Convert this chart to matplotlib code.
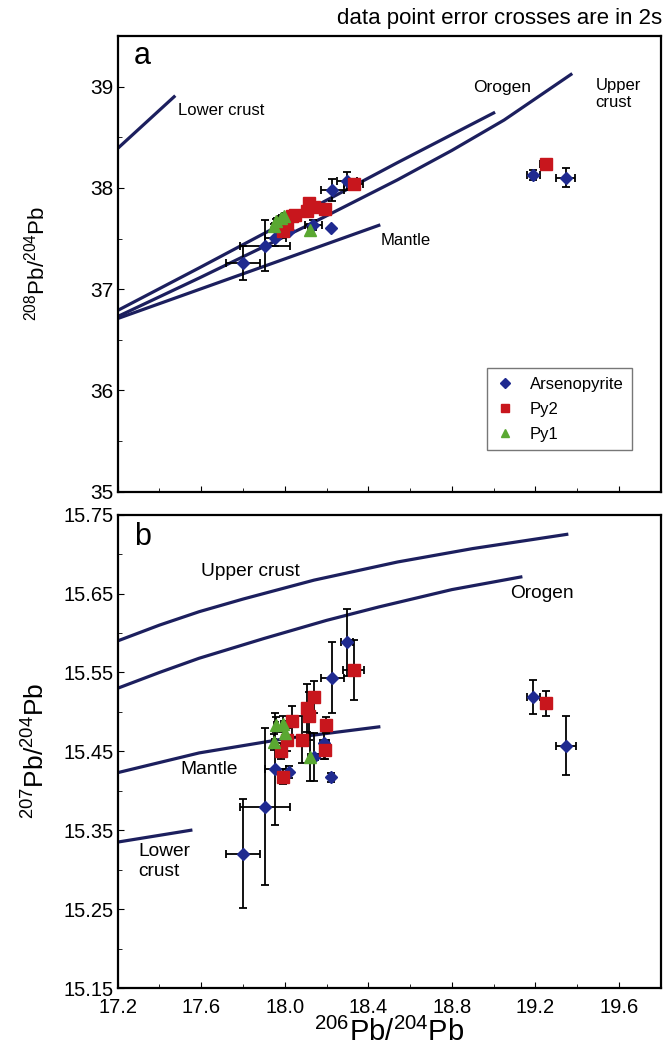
import numpy as np
import matplotlib
matplotlib.use('Agg')
import matplotlib.pyplot as plt
from matplotlib.ticker import MultipleLocator, FixedLocator, FormatStrFormatter

plt.rcParams['font.family'] = ['Liberation Sans', 'DejaVu Sans']
plt.rcParams['mathtext.default'] = 'regular'

# ---- panel a: 208Pb/204Pb vs 206Pb/204Pb ----
asp_x_a = [17.80, 17.905, 17.955, 18.02, 18.136, 18.22, 18.227, 18.298, 19.19, 19.345]
asp_y_a = [37.26, 37.43, 37.51, 37.57, 37.63, 37.60, 37.98, 38.07, 38.13, 38.10]
asp_xe_a = [0.08, 0.12, 0.05, 0.01, 0.04, 0.0, 0.056, 0.05, 0.03, 0.046]
asp_ye_a = [0.165, 0.25, 0.08, 0.02, 0.05, 0.0, 0.105, 0.09, 0.05, 0.094]

py2_x_a = [17.989, 18.012, 18.036, 18.05, 18.108, 18.116, 18.14, 18.192, 18.33, 19.25]
py2_y_a = [37.57, 37.64, 37.72, 37.73, 37.77, 37.85, 37.815, 37.79, 38.036, 38.24]
py2_xe_a = [0.02, 0.02, 0.02, 0.02, 0.02, 0.02, 0.02, 0.02, 0.045, 0.03]
py2_ye_a = [0.03, 0.03, 0.03, 0.03, 0.03, 0.03, 0.03, 0.03, 0.05, 0.02]

py1_x_a = [17.949, 17.96, 17.98, 17.997, 18.119]
py1_y_a = [37.62, 37.67, 37.70, 37.72, 37.585]
py1_xe_a = [0.01, 0.01, 0.01, 0.01, 0.01]
py1_ye_a = [0.02, 0.02, 0.02, 0.02, 0.06]

# model curves (Zartman & Doe)
lc_x_a = [17.2, 17.47]
lc_y_a = [38.39, 38.90]
uc_x_a = [17.2, 17.59, 18.1, 18.54, 18.8, 19.05, 19.37]
uc_y_a = [36.73, 37.11, 37.62, 38.08, 38.37, 38.67, 39.12]
or_x_a = [17.2, 17.59, 18.54, 19.0]
or_y_a = [36.79, 37.21, 38.25, 38.74]
ma_x_a = [17.2, 18.45]
ma_y_a = [36.71, 37.63]

# ---- panel b: 207Pb/204Pb vs 206Pb/204Pb ----
asp_x_b = [17.80, 17.905, 17.955, 18.02, 18.14, 18.19, 18.22, 18.227, 18.298, 19.19, 19.345]
asp_y_b = [15.320, 15.380, 15.428, 15.424, 15.443, 15.46, 15.417, 15.543, 15.588, 15.519, 15.457]
asp_xe_b = [0.08, 0.12, 0.05, 0.01, 0.02, 0.02, 0.01, 0.056, 0.03, 0.03, 0.048]
asp_ye_b = [0.069, 0.10, 0.071, 0.008, 0.03, 0.02, 0.006, 0.045, 0.042, 0.022, 0.0375]

py2_x_b = [17.981, 17.989, 18.012, 18.036, 18.084, 18.108, 18.116, 18.14, 18.192, 18.198, 18.33, 19.25]
py2_y_b = [15.450, 15.418, 15.465, 15.488, 15.465, 15.505, 15.495, 15.519, 15.452, 15.483, 15.553, 15.511]
py2_xe_b = [0.02, 0.02, 0.02, 0.02, 0.02, 0.02, 0.02, 0.02, 0.02, 0.02, 0.05, 0.02]
py2_ye_b = [0.01, 0.01, 0.015, 0.02, 0.03, 0.03, 0.03, 0.02, 0.012, 0.01, 0.038, 0.016]

py1_x_b = [17.95, 17.957, 17.992, 18.0, 18.119]
py1_y_b = [15.462, 15.484, 15.485, 15.473, 15.443]
py1_xe_b = [0.01, 0.01, 0.01, 0.01, 0.01]
py1_ye_b = [0.01, 0.01, 0.01, 0.01, 0.03]

uc_x_b = [17.2, 17.4, 17.59, 17.8, 18.14, 18.54, 18.9, 19.35]
uc_y_b = [15.59, 15.61, 15.627, 15.643, 15.667, 15.69, 15.707, 15.725]
or_x_b = [17.2, 17.4, 17.59, 17.9, 18.2, 18.45, 18.8, 19.13]
or_y_b = [15.53, 15.55, 15.568, 15.593, 15.616, 15.633, 15.655, 15.671]
ma_x_b = [17.2, 17.59, 18.0, 18.45]
ma_y_b = [15.423, 15.448, 15.466, 15.481]
lc_x_b = [17.2, 17.55]
lc_y_b = [15.335, 15.35]
yticks_b = [15.15, 15.25, 15.35, 15.45, 15.55, 15.65, 15.75]
yminor_b = [15.20, 15.30, 15.40, 15.50, 15.60, 15.70]

line_col = '#1c1f5e'
blue = '#1f2a90'
red = '#c8161d'
green = '#5aa832'

fig = plt.figure(figsize=(6.64, 10.52), dpi=100)
ax1 = fig.add_axes([0.1773, 0.5326, 0.8178, 0.4332])
ax2 = fig.add_axes([0.1773, 0.0608, 0.8178, 0.4500])


def draw_points(ax, x, y, xe, ye, marker, color, size, label):
    ax.errorbar(x, y, xerr=xe, yerr=ye, fmt='none', ecolor='black',
                elinewidth=1.3, capsize=3, capthick=1.3, zorder=3)
    ax.plot(x, y, linestyle='none', marker=marker, color=color, ms=size,
            mec=color, zorder=4, label=label)


for ax in (ax1, ax2):
    ax.set_xlim(17.2, 19.8)
    ax.xaxis.set_major_locator(MultipleLocator(0.4))
    ax.xaxis.set_minor_locator(MultipleLocator(0.2))
    ax.tick_params(which='both', direction='in', pad=3)
    ax.tick_params(which='major', length=4)
    ax.tick_params(which='minor', length=3)
    for s in ax.spines.values():
        s.set_linewidth(1.6)

# panel a
for cx, cy in [(lc_x_a, lc_y_a), (uc_x_a, uc_y_a), (or_x_a, or_y_a), (ma_x_a, ma_y_a)]:
    ax1.plot(cx, cy, color=line_col, lw=2.3, zorder=2, solid_joinstyle='round')
draw_points(ax1, asp_x_a, asp_y_a, asp_xe_a, asp_ye_a, 'D', blue, 6.5, 'Arsenopyrite')
draw_points(ax1, py2_x_a, py2_y_a, py2_xe_a, py2_ye_a, 's', red, 8, 'Py2')
draw_points(ax1, py1_x_a, py1_y_a, py1_xe_a, py1_ye_a, '^', green, 8, 'Py1')
ax1.set_ylim(35, 39.5)
ax1.yaxis.set_major_locator(MultipleLocator(1))
ax1.yaxis.set_minor_locator(MultipleLocator(0.5))
ax1.tick_params(axis='x', labelbottom=False)
ax1.tick_params(axis='y', labelsize=15)
ax1.set_ylabel('$^{208}$Pb/$^{204}$Pb', fontsize=16)
ax1.yaxis.set_label_coords(-0.125, 0.5)
ax1.text(0.03, 0.99, 'a', transform=ax1.transAxes, fontsize=22, va='top')
ax1.text(17.487, 38.76, 'Lower crust', fontsize=12, va='center')
ax1.text(18.90, 38.99, 'Orogen', fontsize=12.5, va='center')
ax1.text(19.487, 38.93, 'Upper\ncrust', fontsize=12, va='center')
ax1.text(18.459, 37.48, 'Mantle', fontsize=12, va='center')
leg = ax1.legend(loc='lower right', bbox_to_anchor=(0.947, 0.0915), fontsize=12,
                 frameon=True, fancybox=False, borderpad=0.5, handlelength=1.2,
                 handletextpad=0.9, labelspacing=0.6, markerscale=0.8,
                 borderaxespad=0)
leg.get_frame().set_edgecolor('#555555')
leg.get_frame().set_linewidth(1.0)

# panel b
for cx, cy in [(uc_x_b, uc_y_b), (or_x_b, or_y_b), (ma_x_b, ma_y_b), (lc_x_b, lc_y_b)]:
    ax2.plot(cx, cy, color=line_col, lw=2.3, zorder=2, solid_joinstyle='round')
draw_points(ax2, asp_x_b, asp_y_b, asp_xe_b, asp_ye_b, 'D', blue, 6.5, 'Arsenopyrite')
draw_points(ax2, py2_x_b, py2_y_b, py2_xe_b, py2_ye_b, 's', red, 8, 'Py2')
draw_points(ax2, py1_x_b, py1_y_b, py1_xe_b, py1_ye_b, '^', green, 8, 'Py1')
ax2.set_ylim(15.15, 15.75)
ax2.yaxis.set_major_locator(FixedLocator(yticks_b))
ax2.yaxis.set_minor_locator(FixedLocator(yminor_b))
ax2.yaxis.set_major_formatter(FormatStrFormatter('%.2f'))
ax2.xaxis.set_major_formatter(FormatStrFormatter('%.1f'))
ax2.tick_params(labelsize=14.5)
ax2.tick_params(axis='x', pad=7)
ax2.set_ylabel('$^{207}$Pb/$^{204}$Pb', fontsize=19)
ax2.yaxis.set_label_coords(-0.125, 0.5)
ax2.set_xlabel('$^{206}$Pb/$^{204}$Pb', fontsize=21, labelpad=1)
ax2.text(0.03, 0.985, 'b', transform=ax2.transAxes, fontsize=22, va='top')
ax2.text(17.60, 15.678, 'Upper crust', fontsize=13.8, va='center')
ax2.text(19.08, 15.65, 'Orogen', fontsize=13.8, va='center')
ax2.text(17.50, 15.427, 'Mantle', fontsize=13.8, va='center')
ax2.text(17.30, 15.31, 'Lower\ncrust', fontsize=13.8, va='center')

fig.text(0.997, 0.982, 'data point error crosses are in 2s', ha='right', va='center',
         fontsize=16)

fig.savefig('out.png', dpi=100)
